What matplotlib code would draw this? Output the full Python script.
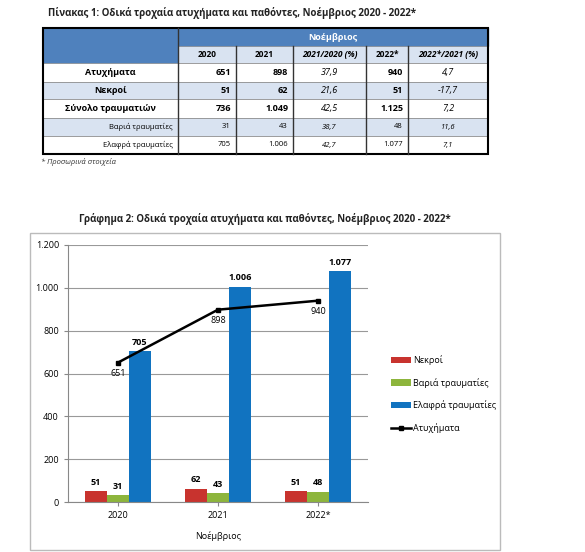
import matplotlib.pyplot as plt
from matplotlib.patches import Rectangle
import numpy as np

plt.rcParams['font.family'] = ['Open Sans', 'DejaVu Sans']

# table data
row_labels = ["Ατυχήματα", "Νεκροί", "Σύνολο τραυματιών", "Βαριά τραυματίες", "Ελαφρά τραυματίες"]
col_labels = ["2020", "2021", "2021/2020 (%)", "2022*", "2022*/2021 (%)"]
table_vals = [
    ["651", "898", "37,9", "940", "4,7"],
    ["51", "62", "21,6", "51", "-17,7"],
    ["736", "1.049", "42,5", "1.125", "7,2"],
    ["31", "43", "38,7", "48", "11,6"],
    ["705", "1.006", "42,7", "1.077", "7,1"],
]

# chart data
years = ["2020", "2021", "2022*"]
nekroi = [51, 62, 51]
varia = [31, 43, 48]
elafra = [705, 1006, 1077]
atyx = [651, 898, 940]

W, H = 585, 552
fig = plt.figure(figsize=(W / 100, H / 100), dpi=100)
bg = fig.add_axes([0, 0, 1, 1])
bg.set_xlim(0, W)
bg.set_ylim(H, 0)
bg.axis("off")

hdr_blue = "#4F81BD"
light = "#D9E3F1"

bg.text(232, 13, "Πίνακας 1: Οδικά τροχαία ατυχήματα και παθόντες, Νοέμβριος 2020 - 2022*",
        ha="center", va="center", fontsize=7, fontweight="bold", color="#222222")

cx = [43, 178, 236, 293, 366, 408, 488]
ry = [28, 46, 63, 82, 99, 118, 136, 154]
# header
bg.add_patch(Rectangle((cx[0], ry[0]), cx[1] - cx[0], ry[2] - ry[0], color=hdr_blue))
bg.add_patch(Rectangle((cx[1], ry[0]), cx[6] - cx[1], ry[1] - ry[0], color=hdr_blue))
bg.text((cx[1] + cx[6]) / 2, (ry[0] + ry[1]) / 2, "Νοέμβριος", ha="center", va="center",
        fontsize=6.5, fontweight="bold", color="white")
for j, lab in enumerate(col_labels):
    bg.add_patch(Rectangle((cx[j + 1], ry[1]), cx[j + 2] - cx[j + 1], ry[2] - ry[1],
                           facecolor=light, edgecolor="#888888", lw=0.5))
    bg.text((cx[j + 1] + cx[j + 2]) / 2, (ry[1] + ry[2]) / 2, lab, ha="center", va="center",
            fontsize=6, fontweight="bold", style="italic" if "%" in lab else "normal")
for i, lab in enumerate(row_labels):
    y0, y1 = ry[i + 2], ry[i + 3]
    fc = light if i % 2 == 1 else "white"
    bold = i < 3
    bg.add_patch(Rectangle((cx[0], y0), cx[6] - cx[0], y1 - y0, facecolor=fc,
                           edgecolor="#888888", lw=0.5))
    if bold:
        bg.text((cx[0] + cx[1]) / 2, (y0 + y1) / 2, lab, ha="center", va="center",
                fontsize=6.5, fontweight="bold")
    else:
        bg.text(cx[1] - 5, (y0 + y1) / 2, lab, ha="right", va="center", fontsize=5.5)
    for j, v in enumerate(table_vals[i]):
        pct = j in (2, 4)
        xt = (cx[j + 1] + cx[j + 2]) / 2 if pct else cx[j + 2] - 5
        bg.text(xt, (y0 + y1) / 2, v, ha="center" if pct else "right", va="center",
                fontsize=6.5 if bold else 5.5, fontweight="bold" if (bold and not pct) else "normal",
                style="italic" if pct else "normal")
for x in cx[1:6]:
    bg.plot([x, x], [ry[0] if x == cx[1] else ry[1], ry[7]], color="#333333", lw=1)
bg.add_patch(Rectangle((cx[0], ry[0]), cx[6] - cx[0], ry[7] - ry[0], fill=False,
                       edgecolor="black", lw=1.5))
bg.text(41, 162, "* Προσωρινά στοιχεία", ha="left", va="center", fontsize=5.5,
        style="italic", color="#333333")

# chart title and frame
bg.text(265, 219, "Γράφημα 2: Οδικά τροχαία ατυχήματα και παθόντες, Νοέμβριος 2020 - 2022*",
        ha="center", va="center", fontsize=7, fontweight="bold", color="#222222")
bg.add_patch(Rectangle((30, 233), 470, 317, fill=False, edgecolor="#BBBBBB", lw=1))

ax = fig.add_axes([68 / W, 1 - 502 / H, 300 / W, 257 / H])
x = np.arange(len(years))
bw = 0.22
b1 = ax.bar(x - bw, nekroi, bw, color="#C8332E", label="Νεκροί", zorder=2)
b2 = ax.bar(x, varia, bw, color="#8DB53C", label="Βαριά τραυματίες", zorder=2)
b3 = ax.bar(x + bw, elafra, bw, color="#1173C0", label="Ελαφρά τραυματίες", zorder=2)
ln, = ax.plot(x, atyx, color="black", lw=1.8, marker="s", ms=3, label="Ατυχήματα", zorder=3)

def fmt(v):
    return f"{v:,}".replace(",", ".")

for bars in (b1, b2, b3):
    for r in bars:
        ax.text(r.get_x() + r.get_width() / 2, r.get_height() + 20, fmt(int(r.get_height())),
                ha="center", va="bottom", fontsize=6.5, fontweight="bold")
for xi, v in zip(x, atyx):
    ax.text(xi, v - 30, str(v), ha="center", va="top", fontsize=6.5)

ax.set_xlim(-0.5, 2.5)
ax.set_ylim(0, 1200)
ax.set_yticks(range(0, 1201, 200))
ax.set_yticklabels([fmt(v) for v in range(0, 1201, 200)], fontsize=6.5)
ax.set_xticks(x)
ax.set_xticklabels(years, fontsize=6.5)
ax.set_xlabel("Νοέμβριος", fontsize=6.5, labelpad=8)
ax.yaxis.grid(True, color="#999999", lw=0.8, zorder=0)
for s in ("top", "right"):
    ax.spines[s].set_visible(False)
ax.spines["left"].set_color("#888888")
ax.spines["bottom"].set_color("#888888")
ax.tick_params(length=3, color="#888888")
ax.legend(handles=[b1, b2, b3, ln], loc="center left", bbox_to_anchor=(1.05, 0.42),
          frameon=False, fontsize=6.5, handlelength=2.2, handletextpad=0.2, labelspacing=1.4)

fig.savefig("out.png", dpi=100)
